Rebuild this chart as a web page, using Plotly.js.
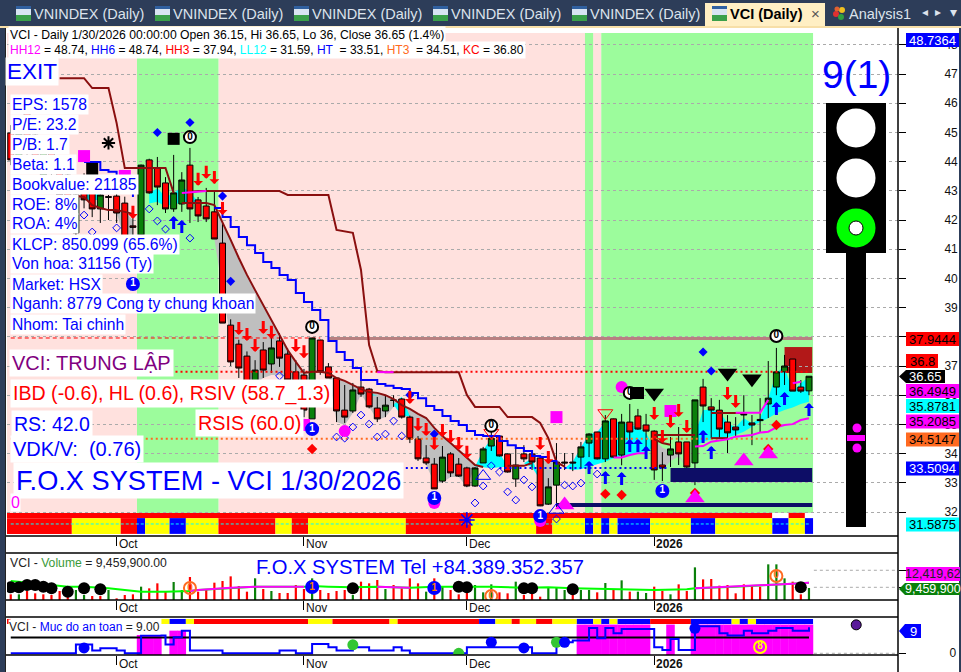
<!DOCTYPE html>
<html><head><meta charset="utf-8">
<script src="https://cdn.plot.ly/plotly-3.0.1.min.js"></script>
<style>html,body{margin:0;padding:0;background:#fff;overflow:hidden}</style>
</head><body><div id="chart" style="width:961px;height:672px"></div>
<script>
// ---------- DATA (bar number 1..99) ----------
const candleOpen=[44.98,43.88,45.67,44.91,43.54,44.3,43.88,43.54,41.56,43.47,42.93,42.38,42.8,42.82,42.58,41.8,41.49,44.06,43.78,43.27,42.38,42.55,43.88,42.69,42.48,42.28,41.21,38.4,37.75,37.34,36.35,37.55,37.07,37.86,37.41,36.8,36.69,35.19,37.89,36.97,36.59,35.49,35.46,36.28,36.21,35.56,35.46,35.84,35.87,35.25,34.5,33.85,33.64,33.06,33.99,33.64,33.51,32.89,33.68,34.26,34.6,33.99,33.13,33.99,33.99,33.85,32.27,32.92,33.71,33.71,33.88,34.36,34.74,33.82,35.19,33.95,35.08,35.29,34.98,34.77,33.61,33.95,34.4,34.4,33.68,36.28,35.6,35.49,35.08,34.91,35.36,35.05,35.17,35.7,36.28,36.8,37.24,36.28,36.15];
const candleHigh=[45.25,45.1,45.85,45.2,44.6,44.5,44,43.7,43,43.6,43.1,43,42.86,43,42.8,42.3,43.9,44.1,44.16,43.47,44.23,43.64,44.47,42.79,43.1,42.96,41.86,38.6,37.9,37.5,37.2,37.82,38,38.13,37.6,37.2,36.9,37.96,37.9,37.1,36.6,36.35,36.42,36.59,36.25,35.94,36,36,35.9,35.3,34.6,34.29,33.85,34.26,34.05,33.85,33.55,33.54,34.23,34.81,34.6,34,34.29,34.29,34.05,33.85,33.16,34.36,34.02,34.02,34.4,34.7,34.75,35.32,35.2,35.36,35.7,35.53,35.36,34.8,34.05,34.57,34.91,34.4,35.84,36.56,35.9,35.84,35.32,35.25,36,35.32,35.9,37.17,37.62,37.38,37.24,36.52,36.65];
const candleLow=[43.88,43.7,44.2,43.7,43.4,43.4,42.6,42.3,41.4,42.4,42.1,41.9,42,41.9,41.2,41.2,41.3,42.9,42.51,42.24,42.28,42.28,41.9,41.93,41.93,41.35,38.47,37,36.59,35.9,35.9,36.59,36.76,36.97,36.3,35.9,35.25,35.19,36.7,36.59,35.08,35.05,35.39,35.94,35.55,35.08,35.25,35.6,35.2,34.36,33.75,33.61,32.79,33,33.2,33.2,32.85,32.86,33.68,34.09,33.9,33.35,32.86,33.71,33.44,32.2,32.24,32.17,33.44,33.4,33.5,33.88,33.8,33.71,33.85,33.6,34.19,34.81,34.19,33.1,33.06,33.54,33.61,33.5,32.92,35.08,34.53,34.53,34.02,34.57,34.95,34.29,34.71,35.22,36,36.35,36.14,36.08,36];
const candleClose=[44.06,44.98,44.4,43.88,44.4,43.64,42.86,42.51,42.86,42.69,42.38,42.86,42.78,42.24,41.32,41.75,43.88,42.93,43.13,42.38,42.93,43.37,42.38,42.14,42.04,41.35,38.47,37.14,36.93,36.11,36.86,36.86,37.62,37.27,36.52,36.01,35.49,37.96,36.8,36.59,35.46,35.25,36.18,36.04,35.6,35.19,35.66,35.82,35.25,34.5,33.82,33.68,32.79,33.88,33.34,33.23,32.89,33.51,34.16,34.53,33.92,33.37,33.61,33.82,33.71,32.21,32.86,33.71,33.68,33.68,34.23,34.67,33.82,35.12,33.88,35.08,34.74,34.84,34.77,33.44,33.51,34.16,33.99,33.54,35.84,35.63,35.49,34.84,34.71,34.81,35.33,34.98,35.13,35.9,36.8,37,36.14,36.14,36.65];
const bars=candleOpen.map((_,k)=>k+1);
const trailHighBars=[7,8,9,10,11,12,13,14,15,16,17,18,19,20,21,22,23,24,25,26,27,28,29,30,31,32,33,34,35,36,37,38,39,40,41,42,43,44,45,46,47,48,49,50,51,52,53,54,55,56,57,58,59,60,61,62,63,64,65,66,67,68];
const trailHigh=[46.86,46.86,46.86,46.86,46.52,46.52,46.52,45.32,43.78,43.78,43.78,43.78,43.78,43.78,42.93,null,42.96,42.99,42.99,42.99,42.99,42.99,42.99,42.99,42.99,42.99,42.99,42.99,42.86,42.86,42.86,42.86,42.86,42.86,41.66,41.62,41.56,40.29,37.72,36.83,36.79,36.79,36.79,36.79,36.79,36.79,36.79,36.79,36.79,36.79,36.01,35.6,35.6,35.6,35.6,35.25,35.25,35.25,35.25,35.05,34.53,33.71];
const trailLowBars=[9,10,11,12,13,14,15,16,17,22,23,24,25,26,27,28,29,30,31,32,33,34,35,36,37,38,39,40,41,42,43,44,45,46,47,48,49,50,51,52,53,54,55,56,57,58,59,60,62,63,64,65,66,68,69];
const trailLow=[42.82,42.79,42.51,42.41,42.34,42.34,42.28,42.21,null,42.58,42.58,42.58,42.58,42.51,41.93,41.32,40.7,40.12,39.6,39.09,38.58,38.06,37.55,37.14,36.76,36.8,36.8,36.76,36.59,36.49,36.35,36.21,36.11,36.08,36,35.87,35.66,35.53,35.36,35.22,34.88,34.6,34.36,34.12,33.88,33.61,33.54,null,33.58,33.58,33.58,33.68,null,33.71,33.55];
const shortStopBars=[80,81,82,null,80,85,null,87,89,null,87,91];
const shortStop=[34.5,34.36,34.3,null,34.64,34.64,null,34.53,34.53,null,35.39,35.39];
const stepBlueBars=[10,11,12,13,14,15,16,null,26,27,28,29,30,31,32,33,34,35,36,37,38,39,40,41,42,43,44,45,46,47,48,49,50,51,52,53,54,55,56,57,58,59,60,61,62,63,64,65,66,67,68];
const stepBlue=[43.99,43.99,43.71,43.65,43.37,43.2,42.79,null,42.41,42.1,41.76,41.42,41.14,40.87,40.56,40.36,40.12,39.95,39.5,39.19,38.92,38.58,37.86,37.48,37.21,36.93,36.52,36.52,36.38,36.32,36.25,36.21,36.08,35.9,35.63,35.49,35.29,35.12,34.98,34.77,34.64,34.6,34.6,34.43,34.29,34.19,34.09,33.92,33.88,33.75,33.61];
const risingBars=[75,76,77,78,79,null,85,86,87,88,89,90,91,92,93,94,95,96,97,98,99,null,90,93,94,null,97,98,null,22,25,null,46,48];
const rising=[33.87,33.87,33.95,34.01,34.01,null,34.24,34.26,34.41,34.44,34.49,34.58,34.61,34.64,34.72,34.75,34.9,34.98,35.01,35.15,35.21,null,35.4,35.4,35.84,null,36.41,36.46,null,42.93,42.99,null,36.79,36.79];
// filled zones: first bar, upper edge, lower edge
const cyanZones=[
 [10,[43.03,42.97,42.86],[42.69,42.69,42.69]],
 [18,[42.91,43.09,42.8,42.91,43.14,42.97,42.63],[42.57,42.63,42.46,42.57,42.57,42.57,42.63]],
 [45,[36.07,35.99],[35.99,35.99]],
 [48,[35.67,35.95,35.29],[35.67,35.29,35.29]],
 [58,[33.55,34.12,34.52,34.01,33.55],[33.55,33.53,33.5,33.53,33.55]],
 [64,[33.67,33.84,33.1],[33.67,33.53,33.1]],
 [69,[33.5,33.72,34.22,34.66,34.73,35.11,35.1,35.07,34.98,34.92,34.69,34.24],[33.5,33.44,33.46,33.55,33.64,33.72,33.84,33.92,33.96,34.01,34.07,34.24]],
 [85,[34.64,35.49,35.49,35.44,35.04,34.9,35.21,35.04,35.21,35.89,36.78,36.98,36.12,36.41,36.63],[34.24,34.41,34.49,34.52,34.56,34.64,34.75,34.92,35.09,35.21,35.38,35.49,35.58,35.7,35.78]]
];
const grayZones=[
 [13,[42.34,42.34,42.28,42.0],[42.34,42.24,41.32,41.3]],
 [26,[42.51,41.93,41.32,40.7,40.12,39.6,39.09,38.58,38.06,37.55,37.14,36.76,36.5],[41.35,39.6,37.9,37.2,36.52,36.35,36.59,36.69,36.69,36.59,36.18,35.15,36.5]],
 [40,[36.76,36.59,36.49,36.35,36.21,36.11,36.08,36,35.87,35.66],[36.76,35.08,34.98,35.39,36.04,35.6,35.15,35.25,35.6,35.66]],
 [49,[35.66,35.53,35.36,35.22,34.88,34.6,34.36,34.12,33.88,33.61],[35.66,34.81,34.29,33.61,33,33,33.2,33.2,32.86,33.58]],
 [66,[33.75,33.75,33.7],[32.24,32.24,33.6]],
 [80,[34.5,34.2,34.1,34.0,33.5],[33.75,33.4,33.75,33.9,33.5]]
];
const levels={hh3:37.94,kc:36.8,ht3:34.51,ht:33.51,ll12:31.59,refDash:37.96};
const greenBands=[[16.5,26.5],[71.5,72.5],[73.5,99.5]];
const pinkBands=[[0.5,16.5],[26.5,71.5],[72.5,73.5]];
const stripEnds=[8.5,14.5,16.5,17.5,20.5,22.5,26.5,33.5,35.5,37.5,49.5,57.5,65.5,67.5,71.5,72.5,73.5,74.5,75.5,79.5,84.5,87.5,94.5,96.5,98.5,99.5];
const stripColors=['#f00','#ff0','#f00','#00f','#ff0','#00f','#ff0','#f00','#ff0','#f00','#ff0','#f00','#ff0','#f00','#ff0','#00f','#ff0','#00f','#ff0','#00f','#ff0','#00f','#ff0','#00f','#ff0','#00f'];
const stripTopEnds=[94.5,96.5,98.5,99.5];
const stripTopColors=['#f00','#fff','#f00','#fff'];
const safeEnds=[1,19.5,20.5,22.5,23.5,37.5,40.5,47.5,48.5,58.5,60.5,62.5,63.5,65.5,67.5,70.5,72.5,73.5,74.5,75.5,79.5,84.5,89.5,90.5,91.5,92.5,99.5];
const safeColors=['#f00','#fff','#ff0','#00f','#ff0','#f00','#ff0','#f00','#ff0','#f00','#00f','#ff0','#f00','#ff0','#f00','#ff0','#00f','#ff0','#00f','#ff0','#00f','#f00','#00f','#ff0','#00f','#ff0','#00f'];
const volume=[4.46,4.46,7.08,5.25,4.46,3.93,7.08,4,7.87,3.93,3.15,3.15,7.87,1.31,3.93,4.46,10.49,9.18,13.12,6.56,14.16,7.87,18.1,6.56,8.66,13.64,14.95,18.62,11.02,6.56,17.05,8.66,7.08,5.51,5.51,11.8,8.66,17.05,7.87,5.51,7.08,7.87,3.93,14.43,13.12,15.74,8.66,11.8,9.18,17.05,13.12,6.56,17.05,10.49,7.87,4.46,6.03,11.8,6.03,12.33,6.03,5.25,14.43,3.93,9.18,2.62,9.7,9.7,7.87,8.39,7.87,7.87,6.03,13.38,7.87,15.48,6.56,6.56,5.51,10.49,7.08,4.46,12.33,7.08,25.7,16.26,16.52,11.28,11.8,5.25,12.33,11.02,10.49,28.07,28.07,17.05,14.43,4.46,9.46];
const volumeUpBars=[2,9,10,13,17,21,22,31,33,38,43,47,52,54,58,59,60,63,67,68,69,71,72,74,76,78,79,82,85,94,95,96,99];
const volAvgBars=[1,3,6,8,10,13,17,20,23,24,28,31,37,38,40,43,46,50,53,56,60,64,67,70,75,80,84,85,90,94,97,99];
const volAvg=[14.95,13.9,11.8,10.49,10.49,9.18,6.56,6.56,7.08,7.87,9.7,10.49,10.49,11.02,10.49,9.97,10.49,9.7,10.49,10.49,10.49,9.7,9.97,9.18,8.39,7.87,8.39,9.18,10.49,11.54,12.85,13.64];
const volAvgPinkSpans=[[23,37],[44,50],[62,64],[72,74],[85,99]];
const safety=[0,0,0,0,0,0,0,0,3,3,0.92,1.72,1.72,0.92,0,0,6.1,6.1,6.1,3,5.5,7.8,0.92,0.92,0.92,0.92,0,0,0,0,0,0,0,0.92,0.92,0,0,3.22,3.22,2.07,0.92,0.92,2.07,2.07,0.92,0.92,0.92,2.07,0.92,0,0,0,0,0,0,0,2.07,2.07,2.07,2.07,2.07,2.07,2.07,2.07,0,0,0,3.8,3.8,4.37,4.37,8.74,5.17,8.74,6.9,8.4,8.4,8.4,8.4,2.07,1.15,4.94,1.15,1.15,9.3,9.3,9.3,6.9,6.1,6.1,7.8,6.9,6.9,7.8,8.74,8.74,7.8,7.8,9];
const safetyBandBars=[17,18,19,21,22,71,72,73,74,75,76,77,78,79,82,85,86,87,88,89,90,91,92,93,94,95,96,97,98,99];
const safetyBandTop=[6.3,6.3,6.3,7.8,7.8,9.9,9.9,9.9,9.9,9.9,9.9,9.9,9.9,9.9,9.9,9.9,9.9,9.9,9.9,9.9,9.9,9.9,9.9,9.9,9.9,9.9,9.9,9.9,9.9,9.9];
const safetyFloor=5.4;
// signal markers: bar / value
const sellBars=[16,24,25,26,27,29,30,31,32,33,36,37,50,51,52,53,54,55,56,57,66,67,80,81,82,83,84,89,90];
const sellTips=[42.04,43.17,43.41,43.23,42.17,38.06,37.86,37.48,38.1,37.93,37.48,37.27,35.7,34.77,34.6,34.12,34.57,34.36,34.12,33.82,34.12,33.64,35.15,34.36,34.88,35.25,34.71,35.84,35.56];
const buyBars=[21,22,72,74,76,77,78,79,86,87,95,96,99];
const buyTips=[42.14,42,33.75,33.4,33.37,34.5,34.5,34.26,34.81,34.26,35.77,36.11,35.73];
const hollowBars=[10,11,14,18,19,20,23,34,41,42,43,44,45,46,47,48,49,58,59,60,61,62,63,64,65,68,69,70,71,73];
const hollowVals=[42.17,41.59,41.73,42.38,41.97,41.69,41.38,36.66,34.57,34.53,34.91,35.32,35.01,34.57,34.67,35.12,34.6,32.31,32.89,33.58,33.37,32.69,32.41,33.1,32.86,31.76,32.92,32.89,32.99,33.3];
const dotBars=[19,23,27,28,50,53,86,87];
const dotVals=[45,45.34,42.82,39.9,36.01,34.67,37.48,36.83];
const redDiamondBars=[74,76,85,94,95,38];
const redDiamondVals=[32.62,32.58,32.65,34.16,34.98,34.16];
const pinkSquareBars=[10,15,37,68,82];
const pinkSquareVals=[44.19,43.51,34.98,35.25,35.46];
const blackSquareBars=[21,11];
const blackSquareVals=[44.78,43.75];
const pinkCircleBars=[42,76,53,66];
const pinkCircleVals=[34.77,36.28,32.31,31.69];
const blackDownBars=[80,89,92];
const blackDownVals=[36.08,36.76,36.56];
const pinkUpBars=[91,94,85,69];
const pinkUpVals=[33.75,33.99,32.48,32.24];
const openUpBars=[59,68];
const openUpVals=[33.23,32.07];
const openDownBars=[74,60];
const openDownVals=[35.39,34.71];
const zeroBars=[23,38,60,95,77];
const zeroVals=[44.84,38.34,34.95,38.03,36.08];
const oneBars=[16,38,53,66,81];
const oneVals=[39.81,34.84,32.48,31.86,32.72];
const volBlackBars=[1,2,3,4,5,6,8,10,12,43,56,57,64,65,70,98];
const volBlackVals=[9.97,9.97,11.8,11.8,10.49,9.18,6.56,9.18,8.39,9.18,10.49,9.97,9.18,9.18,8.39,9.97];
const volOneBars=[16,38,53,66,81];
const volOneVals=[-4.7,10.2,9.4,-0.8,-2.4];
const volZeroBars=[23,60,77,95];
const volZeroVals=[9.4,3.1,-3.1,18.9];
const safeOneBars=[16,38,53,66,81];
const safeOneVals=[-3.34,-3.34,-3.34,-3.34,-3.34];
const safeZeroBars=[23,60,77];
const safeZeroVals=[-3.34,-3.34,-3.34];
const safeDotBlueBars=[10,60,64,69,85];
const safeDotBlue=[1.84,3.8,1.84,3.8,8.6];
const safeDotGreenBars=[43,56,68];
const safeDotGreen=[2.9,0,3.8];
const monthBars=[14,37,57,80];
const monthLabels=['Oct','Nov','Dec','<b>2026</b>'];
const priceTicks=[32,33,34,35,36,37,38,39,40,41,42,43,44,45,46,47,48];
const tabs=['VNINDEX (Daily)','VNINDEX (Daily)','VNINDEX (Daily)','VNINDEX (Daily)','VNINDEX (Daily)'];
const infoRows=['EPS: 1578','P/E: 23.2','P/B: 1.7','Beta: 1.1','Bookvalue: 21185','ROE: 8%','ROA: 4%','KLCP: 850.099 (65.6%)','Von hoa: 31156 (Ty)','Market: HSX','Nganh: 8779 Cong ty chung khoan','Nhom: Tai chinh'];
const priceTags=[['48.7364','#00f','#fff',40],['37.9444','#f00','#000',339],['35.8781','#0ff','#000',406],['36.4949','#f0f','#000',391],['35.2085','#f0f','#000',421.5],['34.5147','#ff6a20','#000',439.5],['33.5094','#00f','#fff',468.5],['31.5875','#0ff','#000',524.5]];

// ---------- helpers ----------
const W=961,H=672,FONT='"Liberation Sans",Arial,sans-serif';
const X0=7,X1=898;
const px=(x)=>x/W, py=(y)=>1-y/H;
const shapes=[],ann=[],traces=[];
let Z=0;
function rectP(x0,y0,x1,y1,c,layer){shapes.push({type:'rect',xref:'paper',yref:'paper',x0:px(x0),x1:px(x1),y0:py(y0),y1:py(y1),fillcolor:c,line:{width:0},layer:layer||'above'});}
function circP(cx,cy,r,c,lc){shapes.push({type:'circle',xref:'paper',yref:'paper',x0:px(cx-r),x1:px(cx+r),y0:py(cy+r),y1:py(cy-r),fillcolor:c,line:{width:lc?1:0,color:lc||c},layer:'above'});}
function lineP(x0,y0,x1,y1,c,w){shapes.push({type:'line',xref:'paper',yref:'paper',x0:px(x0),x1:px(x1),y0:py(y0),y1:py(y1),line:{color:c,width:w||1},layer:'above'});}
function text(x,y,t,o){o=o||{};const xa=o.xa||'left';ann.push({xref:'paper',yref:'paper',x:px(xa==='left'?x-2:x),y:py(y),text:t,showarrow:false,xanchor:xa,yanchor:'middle',align:o.al||'left',bgcolor:o.bg||'rgba(0,0,0,0)',borderpad:o.pad===undefined?1:o.pad,font:{family:FONT,size:o.size||12,color:o.color||'#000'}});}
function tagArrow(x0,x1,y0,y1,tip,c){const m=(y0+y1)/2;shapes.push({type:'path',xref:'paper',yref:'paper',path:`M${px(tip)},${py(m)}L${px(x0)},${py(y0)}L${px(x1)},${py(y0)}L${px(x1)},${py(y1)}L${px(x0)},${py(y1)}Z`,fillcolor:c,line:{width:0},layer:'above'});}
function zone(first,up,lo,color){const xs=up.map((_,k)=>first+k);traces.push({type:'scatter',mode:'lines',x:xs.concat(xs.slice().reverse()),y:up.concat(lo.slice().reverse()),fill:'toself',fillcolor:color,line:{width:0},hoverinfo:'skip',xaxis:'x',yaxis:'y',zorder:Z});}
function ln(x,y,c,w,dash,shape,xa,ya){traces.push({type:'scatter',mode:'lines',x,y,line:{color:c,width:w,dash:dash||'solid',shape:shape||'linear'},hoverinfo:'skip',xaxis:xa||'x',yaxis:ya||'y',connectgaps:false,zorder:Z});}
function mk(x,y,sym,size,c,lc,lw,xa,ya){traces.push({type:'scatter',mode:'markers',x,y,marker:{symbol:sym,size,color:c,line:{color:lc||c,width:lw||0}},hoverinfo:'skip',xaxis:xa||'x',yaxis:ya||'y',cliponaxis:false,zorder:Z});}
function badge(x,y,label,fill,lc,tc,xa,ya,size){traces.push({type:'scatter',mode:'markers+text',x,y,text:x.map(()=>'<b>'+label+'</b>'),textposition:'middle center',textfont:{family:FONT,size:10,color:tc},marker:{symbol:'circle',size:size||12,color:fill,line:{color:lc,width:2}},hoverinfo:'skip',xaxis:xa||'x',yaxis:ya||'y',cliponaxis:false,zorder:Z});}
function segs(ends,colors,start,y0,y1,xr,yr){let a=start;ends.forEach((e,k)=>{shapes.push({type:'rect',xref:xr,yref:yr,x0:a,x1:e,y0,y1,fillcolor:colors[k],line:{width:0},layer:'below'});a=e;});}

// ---------- price panel ----------
pinkBands.forEach(b=>shapes.push({type:'rect',xref:'x',yref:'y',x0:b[0],x1:b[1],y0:31.97,y1:48.41,fillcolor:'#ffe1de',line:{width:0},layer:'below'}));
greenBands.forEach(b=>shapes.push({type:'rect',xref:'x',yref:'y',x0:b[0],x1:b[1],y0:31.97,y1:48.41,fillcolor:'#9cfc9c',line:{width:0},layer:'below'}));
segs(stripTopEnds,stripTopColors,0.5,31.79,31.97,'x','y');
segs(stripEnds,stripColors,0.5,31.25,31.79,'x','y');
shapes.push({type:'rect',xref:'x',yref:'y',x0:96,x1:99.4,y0:36.76,y1:37.65,fillcolor:'#b21818',line:{width:0},layer:'below'});
grayZones.forEach(z=>zone(z[0],z[1],z[2],'#bfbfbf'));
cyanZones.forEach(z=>zone(z[0],z[1],z[2],'#00ffff'));
ln([40,99.4],[levels.hh3,levels.hh3],'#b88080',3);
ln([1,39],[levels.refDash,levels.refDash],'#ff0000',1,'4px,3px');
Z=1;
traces.push({type:'candlestick',x:bars,open:candleOpen,high:candleHigh,low:candleLow,close:candleClose,increasing:{line:{color:'#000',width:1},fillcolor:'#0a800a'},decreasing:{line:{color:'#000',width:1},fillcolor:'#ff0000'},hoverinfo:'skip',xaxis:'x',yaxis:'y',zorder:1});
Z=2;
ln([20,99],[levels.kc,levels.kc],'#ff0000',2,'2px,3px');
ln([1,99],[levels.ht3,levels.ht3],'#ff6a20',2,'2px,3px');
ln([49.5,52.5,null,61,81.5],[levels.ht,levels.ht,null,levels.ht,levels.ht],'#0000ff',2,'2px,3px');
ln([1,99],[levels.ll12,levels.ll12],'#00ffff',1,'3px,2px');
traces.push({type:'scatter',mode:'lines',x:[82,99.4,99.4,82],y:[33.51,33.51,33.03,33.03],fill:'toself',fillcolor:'#0d0d66',line:{width:0},hoverinfo:'skip',xaxis:'x',yaxis:'y',zorder:2});
ln([68,99.4],[32.24,32.24],'#0d0d66',4);
ln(trailHighBars,trailHigh,'#8a0f0f',2);
ln(trailLowBars,trailLow,'#8a0f0f',2);
ln(shortStopBars,shortStop,'#8a0f0f',2);
ln(stepBlueBars,stepBlue,'#0000ff',2,'solid','hv');
ln(risingBars,rising,'#ff00ff',2);
mk(hollowBars,hollowVals,'diamond-open',6,'#0000ff','#0000ff',1);
mk(dotBars,dotVals,'diamond',7,'#0000ff');
mk(redDiamondBars,redDiamondVals,'diamond',8,'#ff0000');
mk(pinkSquareBars,pinkSquareVals,'square',12,'#ff00ff');
mk(blackSquareBars,blackSquareVals,'square',12,'#000');
mk(pinkCircleBars,pinkCircleVals,'circle',12,'#ff00ff');
mk(blackDownBars,blackDownVals,'triangle-down',17,'#000');
mk(pinkUpBars,pinkUpVals,'triangle-up',17,'#ff00ff');
mk(openUpBars,openUpVals,'triangle-up-open',13,'#0000ff','#0000ff',1);
mk(openDownBars,openDownVals,'triangle-down-open',13,'#ff0000','#ff0000',1);
mk([13],[44.64],'asterisk-open',11,'#000','#000',2);
mk([57],[31.73],'asterisk-open',13,'#0000ff','#0000ff',1.5);
badge(zeroBars,zeroVals,'0','#fff','#000','#000');
badge(oneBars,oneVals,'1','#0000ff','#0000ff','#fff');

// ---------- volume panel ----------
const upSet=new Set(volumeUpBars);
traces.push({type:'bar',x:bars,y:volume,width:0.27,marker:{color:bars.map(b=>upSet.has(b)?'#0a800a':'#ff0000'),line:{width:0}},hoverinfo:'skip',xaxis:'x2',yaxis:'y2'});
ln(volAvgBars,volAvg,'#00ff00',2,'solid','linear','x2','y2');
volAvgPinkSpans.forEach(s=>{const xs=[],ys=[];volAvgBars.forEach((b,k)=>{if(b>=s[0]&&b<=s[1]){xs.push(b);ys.push(volAvg[k]);}});ln(xs,ys,'#ff00ff',2,'solid','linear','x2','y2');});
mk(volBlackBars,volBlackVals,'circle',12,'#000',null,0,'x2','y2');
badge(volOneBars,volOneVals,'1','#0000ff','#0000ff','#ff8000','x2','y2');
badge(volZeroBars,volZeroVals,'0','rgba(255,255,255,0)','#ff6a20','#ff6a20','x2','y2');

// ---------- safety panel ----------
segs(safeEnds,safeColors,0.5,10.1,11.83,'x3','y3');
traces.push({type:'bar',x:safetyBandBars,y:safetyBandTop.map(v=>v+0.6),base:-0.6,width:1.05,marker:{color:'#ff00ff',line:{width:0}},hoverinfo:'skip',xaxis:'x3',yaxis:'y3'});
ln([1,99],[safetyFloor,safetyFloor],'#000',2,'solid','linear','x3','y3');
ln(bars,safety,'#0000ff',2,'solid','hv','x3','y3');
mk(safeDotGreenBars,safeDotGreen,'circle',11,'#33c633',null,0,'x3','y3');
mk(safeDotBlueBars,safeDotBlue,'circle',11,'#0000ff',null,0,'x3','y3');
mk([104.8],[9.8],'circle',10,'#5a1a9a','#000',1,'x3','y3');
badge(safeOneBars,safeOneVals,'1','#0000ff','#0000ff','#fff','x3','y3');
badge(safeZeroBars,safeZeroVals,'0','#fff','#ff6a20','#ff6a20','x3','y3');
badge([95],[-3.34],'9','#fff','#000','#000','x3','y3');
badge([93],[2.17],'8','#ff00ff','#ffff00','#ffff00','x3','y3');

// dotted guide lines to the right of the data in lower panels
[[10,'x2','y2'],[23.4,'x2','y2'],[0,'x3','y3']].forEach(g=>shapes.push({type:'line',xref:g[1],yref:g[2],x0:99.6,x1:109.93,y0:g[0],y1:g[0],line:{color:'#aaa',width:1,dash:'dot'},layer:'below'}));

// arrows
const arrowCommon={text:' ',showarrow:true,arrowhead:1,arrowsize:0.55,arrowwidth:3,standoff:0,font:{size:1},borderpad:0,xref:'x',yref:'y',ax:0};
sellBars.forEach((b,k)=>ann.push(Object.assign({},arrowCommon,{x:b,y:sellTips[k],ay:-14,arrowcolor:'#f00'})));
buyBars.forEach((b,k)=>ann.push(Object.assign({},arrowCommon,{x:b,y:buyTips[k],ay:14,arrowcolor:'#00f'})));

// ---------- window chrome ----------
rectP(0,0,961,26,'#2d3d59');rectP(0,26,5,672,'#2d3d59');rectP(959,26,961,672,'#2d3d59');
rectP(0,26,961,28,'#f7dfa8');rectP(5,28,6,672,'#222');
const tabStarts=[34,173,312,451,590];
tabs.forEach((t,k)=>{const x=tabStarts[k];rectP(x-18,6,x-3,21,'#d8e4f2');rectP(x-18,15,x-3,21,'#3aa04a');rectP(x-18,6,x-3,9,'#3060a0');text(x,14,t,{size:14.5,color:'#dce3ec'});});
rectP(705,3,825,26,'#ffefc4');rectP(712,6,727,21,'#d8e4f2');rectP(712,15,727,21,'#3aa04a');rectP(712,6,727,9,'#3060a0');
text(730,14,'<b>VCI (Daily)</b>',{size:14.5,color:'#000'});
text(815,13.5,'×',{size:15,color:'#555',xa:'center'});
circP(836,14,3,'#e03030');circP(842,10,3,'#f0c020');circP(841,17,3,'#30a040');circP(837,9,2.5,'#e06030');
text(849,14,'Analysis1',{size:14.5,color:'#dce3ec'});
text(925,12,'◂',{size:12,color:'#dce3ec',xa:'center'});text(938,12,'▸',{size:12,color:'#dce3ec',xa:'center'});text(953,12,'▾',{size:14,color:'#dce3ec',xa:'center'});

// frame rules
lineP(X1,28,X1,672,'#000',1.5);
lineP(6,536,X1,536,'#000',1.5);lineP(6,553,X1,553,'#000',1.5);lineP(6,600,X1,600,'#000',1.5);lineP(6,617,X1,617,'#000',1.5);lineP(6,655,X1,655,'#000',1.5);

// month labels
[543.5,607.5,663.5].forEach(y=>monthBars.forEach((b,k)=>text(2.6+8.145*b+3,y,monthLabels[k],{size:12,color:'#111',pad:0})));

// black hold tag on the chart
rectP(630,387,644,399,'#000');

// ---------- traffic light ----------
rectP(826,103,886,253,'#000');rectP(846,253,866,527,'#000');
circP(856,128,19.5,'#fff');circP(856,178,19.5,'#fff');circP(856,228,19.5,'#00ff00');circP(856,228,7,'#fff','#000');
circP(857,428,4.5,'#ff00ff');circP(857,448,4.5,'#ff00ff');rectP(847,435,865,441,'#ff00ff');
text(856,74,'9(1)',{size:39,color:'#0000ff',xa:'center',pad:0});

// ---------- info text ----------
text(10,35,'VCI - Daily 1/30/2026 00:00:00 Open 36.15, Hi 36.65, Lo 36, Close 36.65 (1.4%)',{size:12.2,bg:'#fff',pad:1});
text(10,50,'<span style="color:#f0f">HH12</span> = 48.74, <span style="color:#00f">HH6</span> = 48.74, <span style="color:#f00">HH3</span> = 37.94, <span style="color:#0ff">LL12</span> = 31.59, <span style="color:#00f">HT</span>&nbsp; = 33.51, <span style="color:#ff6a20">HT3</span>&nbsp; = 34.51, <span style="color:#f00">KC</span> = 36.80',{size:12,bg:'#fff',pad:1});
text(7,72,'EXIT',{size:22.5,color:'#0000ff',bg:'#fff',pad:1});
infoRows.forEach((r,k)=>text(12,104+20*k,r,{size:15.7,color:'#0000ff',bg:'#fff',pad:1}));
text(11,363,'VCI: TRUNG LẬP',{size:20,color:'#800080',bg:'#fff',pad:2});
text(12,393,'IBD (-0.6), HL (0.6), RSIV (58.7_1.3)',{size:19.6,color:'#ff0000',bg:'#fff',pad:2});
text(13,424,'RS: 42.0',{size:19.5,color:'#0000ff',bg:'#fff',pad:2});
text(197,423,'RSIS (60.0)',{size:19.8,color:'#ff0000',bg:'#fff',pad:2});
text(12,449,'VDK/V:&nbsp; (0.76)',{size:20,color:'#0000ff',bg:'#fff',pad:2});
text(15,480,'F.O.X SYSTEM - VCI 1/30/2026',{size:27.2,color:'#0000ff',bg:'#fff',pad:2});
text(12,502,'0',{size:16,color:'#ff00ff',bg:'#fff',pad:0});
text(256,567,'F.O.X SYSTEM Tel +84.389.352.357',{size:20.2,color:'#0000ff'});
text(10,563,'VCI - <span style="color:#3a9a3a">Volume</span> = 9,459,900.00',{size:12.2,color:'#222'});
text(10,627,'VCI - <span style="color:#00f">Muc do an toan</span> = 9.00',{size:12,color:'#222',bg:'#fff',pad:0});

// ---------- right-hand tags ----------
priceTags.forEach(t=>{rectP(906,t[3]-7,959,t[3]+7,t[1]);text(932.5,t[3],t[0],{size:13,color:t[2],xa:'center',pad:0});});
rectP(906,354,938,368,'#f00');text(922,361,'36.8',{size:13,xa:'center',pad:0});
tagArrow(906,945,370,383,899,'#000');text(925,376.5,'36.65',{size:13,color:'#fff',xa:'center',pad:0});
rectP(906,567,960,581,'#f0f');text(933,574,'12,419,62',{size:12.5,xa:'center',pad:0,color:'#222'});
tagArrow(905,960,583,595,899,'#0a800a');text(933,589,'9,459,900',{size:12.5,color:'#fff',xa:'center',pad:0});
tagArrow(905,921,624,638,899,'#00f');text(913,631,'9',{size:13,color:'#fff',xa:'center',pad:0});

// ---------- layout ----------
const xCommon={type:'linear',range:[0.54,109.93],domain:[X0/W,X1/W],showgrid:false,zeroline:false,tickmode:'array',tickvals:monthBars,ticktext:['','','',''],ticks:'outside',ticklen:9,tickcolor:'#000',tickwidth:1,showline:false,fixedrange:true,rangeslider:{visible:false}};
const yCommon={side:'right',ticks:'outside',ticklen:7,tickcolor:'#000',tickwidth:1,zeroline:false,showline:false,fixedrange:true,tickfont:{family:FONT,size:12,color:'#111'}};
const layout={width:W,height:H,margin:{l:0,r:0,t:0,b:0},paper_bgcolor:'#fff',plot_bgcolor:'#fff',showlegend:false,barmode:'overlay',dragmode:false,boxgap:0.27,boxgroupgap:0,
 xaxis:Object.assign({},xCommon,{anchor:'y'}),
 xaxis2:Object.assign({},xCommon,{anchor:'y2'}),
 xaxis3:Object.assign({},xCommon,{anchor:'y3'}),
 yaxis:Object.assign({},yCommon,{anchor:'x',domain:[(H-536)/H,(H-28)/H],range:[31.178,48.577],tickmode:'array',tickvals:priceTicks,showgrid:true,gridcolor:'#aaa',griddash:'dot',gridwidth:1,ticklabelstandoff:36}),
 yaxis2:Object.assign({},yCommon,{anchor:'x2',domain:[(H-600)/H,(H-553)/H],range:[0,37],tickmode:'array',tickvals:[10,23.4],ticktext:['',''],showgrid:false}),
 yaxis3:Object.assign({},yCommon,{anchor:'x3',domain:[(H-655)/H,(H-617)/H],range:[-0.59,12.5],tickmode:'array',tickvals:[0],ticktext:['0'],showgrid:false,ticklabelstandoff:41}),
 shapes,annotations:ann,font:{family:FONT}};
Plotly.newPlot('chart',traces,layout,{displayModeBar:false,staticPlot:true});
</script></body></html>
